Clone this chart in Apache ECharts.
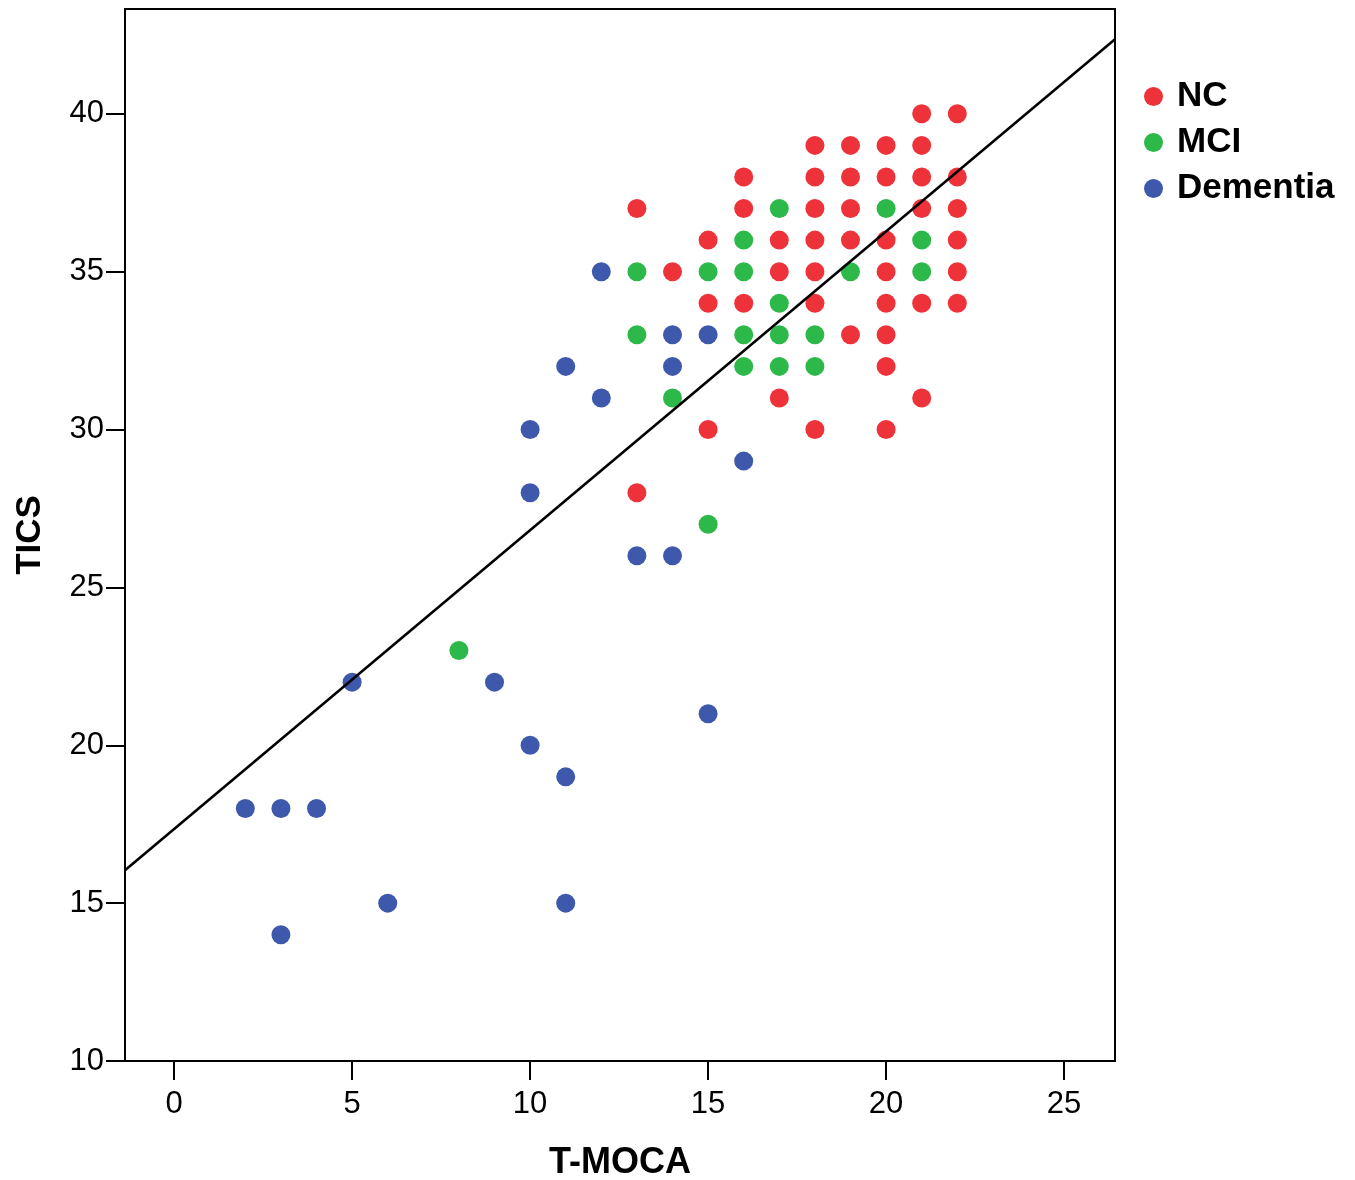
<!DOCTYPE html>
<html>
<head>
<meta charset="utf-8">
<script src="https://cdn.jsdelivr.net/npm/echarts@6/dist/echarts.min.js"></script>
<style>
html,body{margin:0;padding:0;background:#fff;}
#main{width:1355px;height:1180px;}
</style>
</head>
<body>
<div id="main"></div>
<script>
// points, [T-MOCA, TICS]
var ncPoints = [
    [13,37],[13,28],[14,35],
    [15,36],[15,34],[15,30],
    [16,38],[16,37],[16,34],
    [17,36],[17,35],[17,31],
    [18,39],[18,38],[18,37],[18,36],[18,35],[18,34],[18,30],
    [19,39],[19,38],[19,37],[19,36],[19,33],
    [20,39],[20,38],[20,36],[20,35],[20,34],[20,33],[20,32],[20,30],
    [21,40],[21,39],[21,38],[21,37],[21,34],[21,31],
    [22,40],[22,38],[22,37],[22,36],[22,35],[22,34]
];
var mciPoints = [
    [8,23],[13,35],[13,33],[14,31],[15,35],[15,27],
    [16,36],[16,35],[16,33],[16,32],
    [17,37],[17,34],[17,33],[17,32],
    [18,33],[18,32],[19,35],[20,37],[21,36],[21,35]
];
var dementiaPoints = [
    [2,18],[3,18],[4,18],[3,14],[5,22],[6,15],[9,22],
    [10,30],[10,28],[10,20],[11,32],[11,19],[11,15],
    [12,35],[12,31],[13,26],[14,33],[14,32],[14,26],
    [15,33],[15,21],[16,29]
];
// fit line end points, read at the plot edges
var fitLine = [[-1.38,16.04],[26.43,42.36]];
var xTicks = [0,5,10,15,20,25];
var yTicks = [10,15,20,25,30,35,40];

var font = 'Liberation Sans, Arial, sans-serif';
var chart = echarts.init(document.getElementById('main'));
var option = {
    backgroundColor:'#fff',
    animation:false,
    grid:{
        left:125, top:9, right:240, bottom:119,
        outerBoundsMode:'none',
        show:true, borderColor:'#000', borderWidth:2
    },
    legend:{
        orient:'vertical',
        left:1139, top:74,
        itemWidth:19, itemHeight:19,
        itemGap:11,
        icon:'circle',
        data:['NC','MCI','Dementia'],
        textStyle:{fontFamily:font, fontSize:35, fontWeight:'bold', color:'#000', lineHeight:24, padding:[10,0,0,9]}
    },
    xAxis:{
        type:'value', min:-1.38, max:26.43,
        name:'T-MOCA', nameLocation:'middle', nameGap:84,
        nameTextStyle:{fontFamily:font, fontSize:36, fontWeight:'bold', color:'#000'},
        splitLine:{show:false},
        axisLine:{show:true, onZero:false, lineStyle:{color:'#000', width:2}},
        axisTick:{show:true, inside:false, length:19, customValues:xTicks, lineStyle:{color:'#000', width:2}},
        axisLabel:{customValues:xTicks, margin:28, fontFamily:font, fontSize:31, color:'#000'}
    },
    yAxis:{
        type:'value', min:10, max:43.32,
        name:'TICS', nameLocation:'middle', nameGap:77,
        nameTextStyle:{fontFamily:font, fontSize:35, fontWeight:'bold', color:'#000'},
        splitLine:{show:false},
        axisLine:{show:true, onZero:false, lineStyle:{color:'#000', width:2}},
        axisTick:{show:true, inside:false, length:19, customValues:yTicks, lineStyle:{color:'#000', width:2}},
        axisLabel:{customValues:yTicks, margin:21, fontFamily:font, fontSize:31, color:'#000'}
    },
    series:[
        {name:'NC', type:'scatter', data:ncPoints, symbolSize:19, itemStyle:{color:'#ee3239', opacity:1}},
        {name:'MCI', type:'scatter', data:mciPoints, symbolSize:19, itemStyle:{color:'#2db84a', opacity:1}},
        {name:'Dementia', type:'scatter', data:dementiaPoints, symbolSize:19, itemStyle:{color:'#3e58ab', opacity:1}},
        {name:'fit', type:'line', data:fitLine, showSymbol:false, symbol:'none', z:5,
            lineStyle:{color:'#000', width:2.6}}
    ]
};
chart.setOption(option);
</script>
</body>
</html>
